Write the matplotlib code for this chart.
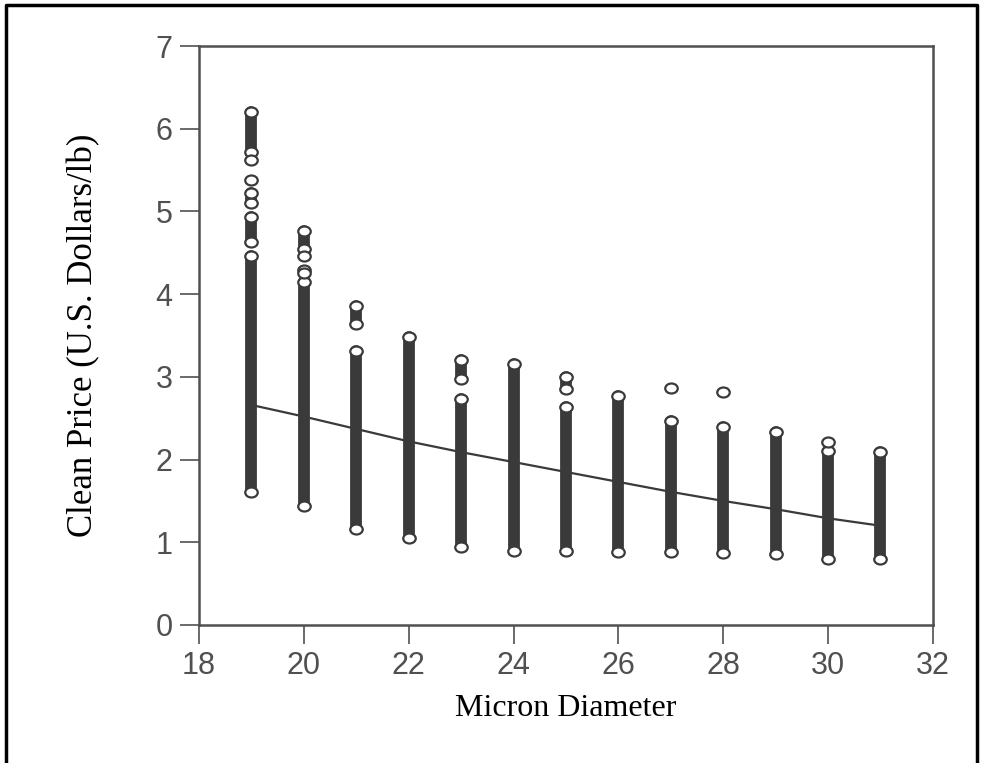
import numpy as np
import matplotlib
matplotlib.use('Agg')
import matplotlib.pyplot as plt
from matplotlib.path import Path
from matplotlib.transforms import Affine2D
from matplotlib.lines import Line2D

# dense runs of overlapping circles (micron, low, high)
seg_micron = [19, 19, 19, 19, 20, 20, 21, 21, 22, 23, 23, 24, 25, 25, 26, 27, 28, 29, 30, 31]
seg_lo = [5.72, 5.10, 4.63, 1.61, 4.55, 1.44, 3.64, 1.16, 1.05, 2.97, 0.94, 0.90, 2.85, 0.90, 0.88, 0.88, 0.87, 0.86, 0.80, 0.80]
seg_hi = [6.20, 5.22, 4.93, 4.46, 4.76, 4.15, 3.86, 3.31, 3.48, 3.20, 2.73, 3.15, 3.00, 2.63, 2.77, 2.47, 2.39, 2.33, 2.10, 2.09]

# isolated circles
pt_micron = [19, 19, 20, 20, 20, 27, 28, 30]
pt_price = [5.62, 5.38, 4.46, 4.29, 4.25, 2.87, 2.82, 2.21]

# fitted curve
fit_micron = [19, 20, 21, 22, 23, 24, 25, 26, 27, 28, 29, 30, 31]
fit_price = [2.66, 2.52, 2.37, 2.22, 2.09, 1.97, 1.85, 1.73, 1.61, 1.50, 1.40, 1.29, 1.20]

ink = '#3a3a3a'
grey = '#505050'

# slightly squashed circle, like the scan
ellipse = Path.unit_circle().transformed(Affine2D().scale(1.0, 0.8))

fig = plt.figure(figsize=(9.82, 7.63), dpi=100)
ax = fig.add_axes([0.2026, 0.1809, 0.7474, 0.7588])

for m, lo, hi in zip(seg_micron, seg_lo, seg_hi):
    ax.plot([m, m], [lo, hi], color=ink, lw=8.5, solid_capstyle='round', zorder=2)
ends_x = seg_micron + seg_micron
ends_y = seg_lo + seg_hi
ax.plot(ends_x, ends_y, ls='none', marker=ellipse, ms=9, mfc='white', mec=ink, mew=1.6, zorder=3)
ax.plot(pt_micron, pt_price, ls='none', marker=ellipse, ms=9, mfc='white', mec=ink, mew=1.6, zorder=3)

ax.plot(fit_micron, fit_price, color=ink, lw=1.6, zorder=4)

ax.set_xlim(18, 32)
ax.set_ylim(0, 7)
ax.set_xticks(range(18, 33, 2))
ax.set_yticks(range(0, 8))
for s in ax.spines.values():
    s.set_color(grey)
    s.set_linewidth(1.8)
ax.tick_params(direction='out', length=14, width=1.2, color=grey, labelcolor=grey,
               labelsize=22, pad=5)
for lab in ax.get_xticklabels() + ax.get_yticklabels():
    lab.set_fontfamily('Liberation Sans')

ax.set_ylabel('Clean Price (U.S. Dollars/lb)', fontfamily='Liberation Serif', fontsize=25, labelpad=40)
ax.set_xlabel('Micron Diameter', fontfamily='Liberation Serif', fontsize=23, labelpad=9)

# frame around the figure (left, top, right)
fig.add_artist(Line2D([0.006, 0.006, 0.995, 0.995], [0.0, 0.993, 0.993, 0.0],
                      transform=fig.transFigure, color='black', lw=2.5))

plt.savefig('out.png', dpi=100)
